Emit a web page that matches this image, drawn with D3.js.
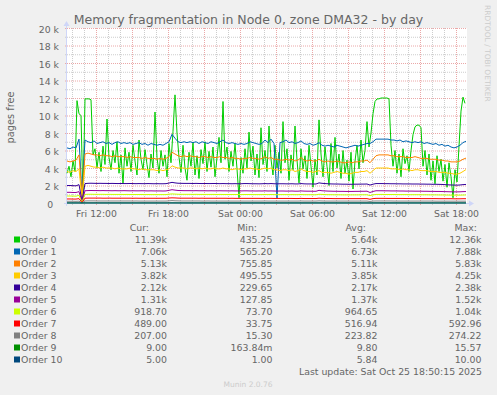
<!DOCTYPE html>
<html>
<head>
<meta charset="utf-8">
<title>Memory fragmentation in Node 0, zone DMA32 - by day</title>
<style>
body { margin: 0; background: #f0f0f0; }
svg { display: block; font-family: "DejaVu Sans", sans-serif; }

.grid-minor line { stroke: #cdcdcd; stroke-dasharray: 1,1; }
.grid-major line { stroke: #eba8a8; stroke-dasharray: 1,1; }
.grid-minor path, .grid-major path { display: none; }

.axis path, .axis line { display: none; }
.axis text { fill: #666; font-size: 9.3px; font-family: "DejaVu Sans", sans-serif; }

.line { fill: none; stroke-width: 1px; }
.legend text { fill: #666; font-size: 9.4px; }
</style>
</head>
<body>
<svg width="497" height="395"></svg>
<script src="https://d3js.org/d3.v7.min.js"></script>
<script>
// first sample at Fri 09:35, values in thousands of pages
var sampleStart = new Date(2025, 9, 24, 9, 35);
var order0StepMin = 10;   // order 0 read every 10 minutes
var sampleStepMin = 15;   // the other orders every 15 minutes

var order0 = [
  3.4, 4.2, 3.0, 4.8, 3.6, 11.7, 10.2, 10.0, 0.44, 11.9,
  11.9, 11.9, 11.8, 5.5, 6.2, 4.0, 5.8, 3.6, 6.5, 4.4,
  9.6, 5.2, 3.8, 6.0, 4.6, 7.0, 3.4, 5.5, 2.2, 6.3,
  4.2, 5.8, 3.6, 6.6, 4.8, 3.2, 7.2, 5.0, 3.8, 6.1,
  4.4, 2.9, 5.6, 4.0, 10.4, 5.2, 3.4, 6.0, 4.2, 5.5,
  3.0, 6.8, 4.6, 8.2, 12.36, 8.0, 5.2, 3.5, 6.6, 4.0,
  2.6, 5.8, 4.2, 6.9, 3.2, 5.4, 2.8, 6.1, 4.5, 7.0,
  3.6, 5.9, 4.1, 6.4, 3.0, 5.2, 7.5, 4.6, 11.6, 5.0,
  6.4, 3.6, 5.9, 4.2, 6.8, 3.9, 0.6, 5.2, 3.4, 6.2,
  4.0, 8.1, 4.8, 6.5, 3.2, 5.6, 2.9, 8.6, 4.4, 6.0,
  3.6, 8.8, 5.0, 3.2, 6.6, 4.0, 5.8, 3.4, 9.3, 4.6,
  6.2, 2.6, 5.5, 3.8, 8.8, 4.9, 2.3, 6.2, 3.9, 5.4,
  2.8, 6.6, 4.2, 1.8, 5.0, 3.2, 9.5, 5.6, 3.0, 6.4,
  4.2, 2.0, 6.8, 3.6, 7.5, 4.0, 5.6, 2.8, 6.0, 3.4,
  4.9, 2.5, 5.8, 1.6, 4.8, 6.6, 3.9, 7.2, 4.6, 6.0,
  9.3, 6.4, 8.0, 10.2, 11.6, 11.9, 11.9, 12.0, 12.0, 12.0,
  12.0, 11.9, 6.6, 4.2, 6.0, 3.4, 5.6, 3.0, 6.2, 4.5,
  5.4, 3.6, 6.0, 7.8, 8.7, 8.9, 8.9, 8.6, 4.2, 6.0,
  3.2, 5.6, 2.6, 4.8, 2.2, 5.4, 3.6, 5.0, 2.5, 4.4,
  1.8, 4.6, 3.0, 0.6, 3.8, 2.4, 6.5, 10.5, 12.1, 11.39
];
var order1 = [
  6.3, 6.2, 6.4, 6.3, 7.3, 0.9, 7.2, 7.0, 6.9, 7.1,
  6.8, 6.9, 7.0, 6.8, 6.9, 6.7, 6.9, 7.0, 6.8, 6.9,
  6.8, 6.9, 6.7, 6.8, 6.9, 6.7, 6.8, 6.6, 6.8, 6.7,
  6.6, 6.7, 6.6, 6.8, 7.0, 7.85, 7.4, 7.0, 6.9, 7.0,
  6.9, 7.0, 6.9, 7.0, 6.8, 7.0, 6.9, 6.8, 7.0, 6.9,
  6.8, 7.0, 7.2, 6.9, 6.8, 6.9, 6.8, 6.7, 6.8, 6.7,
  6.8, 7.0, 6.9, 6.8, 6.7, 6.8, 7.2, 6.9, 7.3, 6.8,
  0.57, 6.9, 7.0, 7.2, 6.9, 7.0, 6.8, 6.9, 7.1, 6.8,
  6.7, 6.8, 6.6, 6.7, 6.9, 6.6, 6.5, 6.6, 6.5, 6.4,
  6.6, 6.5, 6.4, 6.3, 6.4, 6.5, 6.6, 6.5, 6.6, 6.7,
  6.8, 6.8, 7.0, 7.3, 7.3, 7.3, 7.3, 7.3, 7.2, 7.2,
  7.1, 7.2, 7.0, 7.1, 7.0, 6.9, 7.0, 6.9, 7.0, 6.8,
  6.9, 6.8, 6.7, 6.8, 6.6, 6.7, 6.5, 6.6, 6.4, 6.3,
  6.4, 6.6, 6.9, 7.06
];
var order2 = [
  4.8, 4.7, 4.8, 4.9, 5.5, 0.76, 5.6, 5.7, 5.6, 5.5,
  5.5, 5.4, 5.5, 5.4, 5.4, 5.3, 5.4, 5.3, 5.3, 5.3,
  5.2, 5.3, 5.2, 5.2, 5.2, 5.1, 5.2, 5.1, 5.1, 5.1,
  5.0, 5.1, 5.0, 5.1, 5.3, 5.8, 5.6, 5.4, 5.3, 5.4,
  5.3, 5.4, 5.3, 5.3, 5.2, 5.3, 5.3, 5.2, 5.3, 5.2,
  5.2, 5.3, 5.2, 5.2, 5.1, 5.2, 5.1, 5.1, 5.0, 5.1,
  5.1, 5.2, 5.1, 5.1, 5.0, 5.1, 5.3, 5.1, 5.2, 5.0,
  5.0, 4.9, 4.9, 5.0, 4.9, 5.0, 4.8, 4.9, 5.2, 4.9,
  4.8, 4.9, 4.8, 4.8, 5.0, 4.8, 4.7, 4.8, 4.7, 4.7,
  4.8, 4.7, 4.6, 4.6, 4.7, 4.6, 4.7, 4.7, 4.8, 4.8,
  4.9, 4.6, 5.0, 5.4, 5.5, 5.5, 5.5, 5.5, 5.4, 5.4,
  5.3, 5.3, 5.3, 5.2, 5.2, 5.2, 5.3, 5.2, 5.1, 5.1,
  5.1, 5.0, 5.0, 5.0, 4.9, 4.9, 4.8, 4.8, 4.7, 4.7,
  4.7, 4.8, 5.0, 5.13
];
var order3 = [
  3.6, 3.5, 3.7, 3.6, 3.9, 0.5, 4.2, 4.3, 4.2, 4.1,
  4.1, 4.0, 4.1, 4.0, 4.0, 4.0, 3.9, 4.0, 3.9, 3.9,
  3.9, 4.0, 3.9, 3.9, 3.8, 3.9, 3.8, 3.8, 3.8, 3.8,
  3.7, 3.8, 3.7, 3.8, 3.9, 4.25, 4.1, 4.0, 4.0, 4.0,
  3.9, 4.0, 4.0, 3.9, 4.0, 3.9, 4.0, 3.9, 3.9, 4.0,
  3.9, 3.9, 4.0, 3.9, 3.9, 3.8, 3.9, 3.9, 3.8, 3.9,
  3.9, 4.0, 3.9, 3.9, 3.8, 3.9, 4.0, 3.9, 4.0, 3.8,
  3.8, 3.7, 3.8, 3.8, 3.7, 3.8, 3.6, 3.7, 3.9, 3.7,
  3.6, 3.6, 3.5, 3.6, 3.7, 3.5, 3.5, 3.5, 3.4, 3.5,
  3.6, 3.5, 3.4, 3.4, 3.3, 3.4, 3.5, 3.5, 3.6, 3.6,
  3.7, 3.4, 3.7, 4.0, 4.0, 4.0, 4.0, 4.0, 3.9, 3.9,
  3.9, 3.8, 3.9, 3.8, 3.8, 3.7, 3.8, 3.8, 3.7, 3.7,
  3.7, 3.6, 3.6, 3.6, 3.5, 3.5, 3.5, 3.4, 3.4, 3.3,
  3.3, 3.4, 3.6, 3.82
];
var order4 = [
  2.00, 2.00, 1.98, 1.96, 2.10, 0.23, 2.22, 2.25, 2.26, 2.25,
  2.24, 2.25, 2.24, 2.24, 2.23, 2.24, 2.23, 2.22, 2.23, 2.22,
  2.22, 2.23, 2.22, 2.21, 2.22, 2.21, 2.21, 2.22, 2.21, 2.20,
  2.21, 2.20, 2.20, 2.21, 2.28, 2.36, 2.30, 2.26, 2.25, 2.24,
  2.24, 2.24, 2.23, 2.24, 2.23, 2.22, 2.23, 2.22, 2.22, 2.23,
  2.22, 2.21, 2.22, 2.21, 2.21, 2.20, 2.21, 2.20, 2.20, 2.22,
  2.22, 2.21, 2.20, 2.20, 2.19, 2.20, 2.22, 2.20, 2.22, 2.20,
  2.19, 2.20, 2.20, 2.19, 2.19, 2.20, 2.18, 2.18, 2.22, 2.19,
  2.18, 2.18, 2.17, 2.17, 2.30, 2.25, 2.22, 2.20, 2.18, 2.17,
  2.17, 2.16, 2.15, 2.15, 2.14, 2.14, 2.15, 2.15, 2.16, 2.16,
  2.17, 2.05, 2.15, 2.22, 2.22, 2.22, 2.21, 2.21, 2.20, 2.20,
  2.19, 2.19, 2.18, 2.18, 2.18, 2.17, 2.17, 2.17, 2.16, 2.16,
  2.15, 2.15, 2.14, 2.14, 2.13, 2.12, 2.10, 2.08, 2.06, 2.05,
  2.04, 2.06, 2.10, 2.12
];
var order5 = [
  1.22, 1.22, 1.20, 1.20, 1.30, 0.128, 1.40, 1.42, 1.43, 1.42,
  1.42, 1.41, 1.42, 1.41, 1.41, 1.40, 1.41, 1.40, 1.40, 1.41,
  1.40, 1.39, 1.40, 1.39, 1.39, 1.40, 1.39, 1.38, 1.39, 1.38,
  1.38, 1.38, 1.37, 1.38, 1.45, 1.52, 1.47, 1.43, 1.42, 1.41,
  1.41, 1.41, 1.40, 1.41, 1.40, 1.40, 1.40, 1.39, 1.40, 1.39,
  1.39, 1.40, 1.39, 1.39, 1.38, 1.39, 1.38, 1.38, 1.38, 1.39,
  1.39, 1.38, 1.38, 1.37, 1.38, 1.37, 1.39, 1.37, 1.38, 1.37,
  1.36, 1.37, 1.37, 1.36, 1.36, 1.37, 1.35, 1.35, 1.38, 1.36,
  1.35, 1.35, 1.34, 1.34, 1.45, 1.40, 1.38, 1.36, 1.35, 1.34,
  1.34, 1.33, 1.33, 1.32, 1.32, 1.32, 1.33, 1.33, 1.34, 1.34,
  1.35, 1.20, 1.32, 1.40, 1.40, 1.40, 1.39, 1.39, 1.38, 1.38,
  1.38, 1.37, 1.37, 1.36, 1.36, 1.36, 1.35, 1.35, 1.35, 1.34,
  1.34, 1.33, 1.33, 1.32, 1.32, 1.31, 1.30, 1.29, 1.28, 1.27,
  1.27, 1.28, 1.30, 1.31
];
var order6 = [
  0.80, 0.80, 0.79, 0.78, 0.88, 0.074, 0.98, 1.00, 1.00, 0.99,
  0.99, 0.99, 0.99, 0.98, 0.99, 0.98, 0.98, 0.98, 0.98, 0.97,
  0.98, 0.97, 0.97, 0.97, 0.97, 0.97, 0.96, 0.97, 0.96, 0.96,
  0.96, 0.96, 0.96, 0.96, 1.01, 1.04, 1.02, 1.00, 0.99, 0.99,
  0.99, 0.99, 0.98, 0.99, 0.98, 0.98, 0.98, 0.98, 0.98, 0.98,
  0.97, 0.98, 0.97, 0.97, 0.97, 0.97, 0.97, 0.97, 0.96, 0.97,
  0.97, 0.97, 0.96, 0.96, 0.96, 0.96, 0.97, 0.96, 0.97, 0.96,
  0.95, 0.96, 0.96, 0.96, 0.95, 0.96, 0.95, 0.95, 0.97, 0.95,
  0.95, 0.95, 0.94, 0.94, 1.00, 0.98, 0.96, 0.95, 0.95, 0.94,
  0.94, 0.94, 0.93, 0.93, 0.93, 0.93, 0.93, 0.93, 0.94, 0.94,
  0.94, 0.84, 0.93, 0.98, 0.98, 0.98, 0.97, 0.97, 0.97, 0.97,
  0.96, 0.96, 0.96, 0.96, 0.95, 0.95, 0.95, 0.95, 0.94, 0.94,
  0.94, 0.93, 0.93, 0.93, 0.92, 0.92, 0.91, 0.91, 0.90, 0.90,
  0.90, 0.90, 0.91, 0.92
];
var order7 = [
  0.46, 0.46, 0.45, 0.45, 0.50, 0.034, 0.55, 0.56, 0.56, 0.56,
  0.56, 0.56, 0.55, 0.55, 0.56, 0.55, 0.55, 0.55, 0.55, 0.55,
  0.55, 0.55, 0.54, 0.55, 0.54, 0.54, 0.54, 0.54, 0.54, 0.54,
  0.54, 0.54, 0.54, 0.54, 0.57, 0.59, 0.58, 0.56, 0.55, 0.55,
  0.55, 0.55, 0.55, 0.55, 0.54, 0.55, 0.54, 0.54, 0.54, 0.54,
  0.54, 0.54, 0.54, 0.54, 0.53, 0.54, 0.53, 0.53, 0.53, 0.53,
  0.53, 0.53, 0.53, 0.53, 0.53, 0.52, 0.53, 0.52, 0.53, 0.52,
  0.52, 0.52, 0.52, 0.52, 0.52, 0.52, 0.51, 0.51, 0.53, 0.51,
  0.51, 0.51, 0.51, 0.51, 0.55, 0.53, 0.52, 0.51, 0.51, 0.50,
  0.50, 0.50, 0.50, 0.50, 0.50, 0.50, 0.50, 0.50, 0.50, 0.50,
  0.50, 0.42, 0.50, 0.53, 0.53, 0.53, 0.53, 0.52, 0.52, 0.52,
  0.52, 0.52, 0.52, 0.51, 0.51, 0.51, 0.51, 0.51, 0.50, 0.50,
  0.50, 0.50, 0.50, 0.50, 0.49, 0.49, 0.49, 0.49, 0.49, 0.48,
  0.48, 0.48, 0.49, 0.489
];
var order8 = [
  0.20, 0.20, 0.20, 0.19, 0.21, 0.015, 0.23, 0.24, 0.24, 0.24,
  0.23, 0.23, 0.23, 0.23, 0.23, 0.23, 0.23, 0.23, 0.23, 0.23,
  0.23, 0.23, 0.22, 0.23, 0.22, 0.22, 0.22, 0.22, 0.22, 0.22,
  0.22, 0.22, 0.22, 0.22, 0.24, 0.27, 0.25, 0.24, 0.23, 0.23,
  0.23, 0.23, 0.23, 0.23, 0.23, 0.22, 0.22, 0.23, 0.22, 0.22,
  0.22, 0.22, 0.22, 0.22, 0.22, 0.22, 0.22, 0.22, 0.22, 0.22,
  0.22, 0.22, 0.22, 0.22, 0.22, 0.22, 0.23, 0.22, 0.22, 0.22,
  0.22, 0.22, 0.22, 0.22, 0.22, 0.22, 0.22, 0.22, 0.23, 0.22,
  0.22, 0.22, 0.22, 0.22, 0.24, 0.23, 0.22, 0.22, 0.22, 0.22,
  0.22, 0.22, 0.22, 0.22, 0.22, 0.22, 0.22, 0.22, 0.22, 0.22,
  0.22, 0.18, 0.22, 0.23, 0.23, 0.23, 0.23, 0.23, 0.23, 0.22,
  0.22, 0.22, 0.22, 0.22, 0.22, 0.22, 0.22, 0.22, 0.22, 0.22,
  0.22, 0.22, 0.22, 0.21, 0.21, 0.21, 0.21, 0.21, 0.21, 0.21,
  0.21, 0.21, 0.21, 0.207
];
var order9 = [
  0.010, 0.010, 0.010, 0.010, 0.011, 0.0002, 0.012, 0.012, 0.011, 0.011,
  0.010, 0.010, 0.010, 0.010, 0.010, 0.010, 0.010, 0.010, 0.010, 0.010,
  0.010, 0.010, 0.010, 0.010, 0.010, 0.010, 0.010, 0.010, 0.010, 0.010,
  0.010, 0.010, 0.010, 0.010, 0.013, 0.016, 0.014, 0.012, 0.011, 0.010,
  0.010, 0.010, 0.010, 0.010, 0.010, 0.010, 0.010, 0.010, 0.010, 0.010,
  0.010, 0.010, 0.010, 0.010, 0.010, 0.010, 0.010, 0.010, 0.010, 0.010,
  0.010, 0.010, 0.010, 0.010, 0.010, 0.010, 0.010, 0.010, 0.010, 0.010,
  0.010, 0.010, 0.010, 0.010, 0.010, 0.010, 0.010, 0.010, 0.010, 0.010,
  0.010, 0.010, 0.010, 0.010, 0.011, 0.010, 0.010, 0.010, 0.010, 0.010,
  0.009, 0.009, 0.009, 0.009, 0.009, 0.009, 0.009, 0.009, 0.009, 0.009,
  0.009, 0.008, 0.009, 0.010, 0.010, 0.010, 0.010, 0.010, 0.010, 0.010,
  0.010, 0.010, 0.010, 0.010, 0.010, 0.010, 0.010, 0.010, 0.010, 0.010,
  0.010, 0.010, 0.010, 0.009, 0.009, 0.009, 0.009, 0.009, 0.009, 0.009,
  0.009, 0.009, 0.009, 0.009
];
var order10 = [
  0.006, 0.006, 0.006, 0.006, 0.006, 0.001, 0.006, 0.007, 0.007, 0.006,
  0.006, 0.006, 0.006, 0.006, 0.006, 0.006, 0.006, 0.006, 0.006, 0.006,
  0.006, 0.006, 0.006, 0.006, 0.006, 0.006, 0.006, 0.006, 0.006, 0.006,
  0.006, 0.006, 0.006, 0.006, 0.008, 0.010, 0.008, 0.007, 0.006, 0.006,
  0.006, 0.006, 0.006, 0.006, 0.006, 0.006, 0.006, 0.006, 0.006, 0.006,
  0.006, 0.006, 0.006, 0.006, 0.006, 0.006, 0.006, 0.006, 0.006, 0.006,
  0.006, 0.006, 0.006, 0.006, 0.006, 0.006, 0.006, 0.006, 0.006, 0.006,
  0.006, 0.006, 0.006, 0.006, 0.006, 0.006, 0.006, 0.006, 0.006, 0.006,
  0.006, 0.006, 0.006, 0.006, 0.006, 0.006, 0.006, 0.006, 0.006, 0.006,
  0.005, 0.005, 0.005, 0.005, 0.005, 0.005, 0.005, 0.005, 0.005, 0.005,
  0.005, 0.004, 0.005, 0.006, 0.006, 0.006, 0.006, 0.006, 0.006, 0.006,
  0.006, 0.006, 0.006, 0.006, 0.006, 0.006, 0.006, 0.006, 0.006, 0.006,
  0.006, 0.006, 0.006, 0.005, 0.005, 0.005, 0.005, 0.005, 0.005, 0.005,
  0.005, 0.005, 0.005, 0.005
];

var orderNames = ["Order 0", "Order 1", "Order 2", "Order 3", "Order 4", "Order 5",
                  "Order 6", "Order 7", "Order 8", "Order 9", "Order 10"];
var orderColors = ["#00cc00", "#0066b3", "#ff8000", "#ffcc00", "#330099", "#990099",
                   "#ccff00", "#ff0000", "#808080", "#008f00", "#00487d"];

// legend columns as munin prints them
var legendCur = ["11.39k", "7.06k", "5.13k", "3.82k", "2.12k", "1.31k", "918.70", "489.00", "207.00", "9.00", "5.00"];
var legendMin = ["435.25", "565.20", "755.85", "495.55", "229.65", "127.85", "73.70", "33.75", "15.30", "163.84m", "1.00"];
var legendAvg = ["5.64k", "6.73k", "5.11k", "3.85k", "2.17k", "1.37k", "964.65", "516.94", "223.82", "9.80", "5.84"];
var legendMax = ["12.36k", "7.88k", "5.83k", "4.25k", "2.38k", "1.52k", "1.04k", "592.96", "274.22", "15.57", "10.00"];

var yTicks = [0, 2, 4, 6, 8, 10, 12, 14, 16, 18, 20];
var yMinorTicks = [1, 3, 5, 7, 9, 11, 13, 15, 17, 19];

var titleText = "Memory fragmentation in Node 0, zone DMA32 - by day";
var yLabel = "pages free";
var lastUpdate = "Last update: Sat Oct 25 18:50:15 2025";
var footer = "Munin 2.0.76";
var sideNote = "RRDTOOL / TOBI OETIKER";

var series = [order0, order1, order2, order3, order4, order5, order6, order7, order8, order9, order10];

var svg = d3.select("svg"),
    margin = {top: 28, left: 67},
    width = 400,
    height = 175;

// time range of the day graph: 2000 minutes ending 18:55
var x = d3.scaleTime()
    .domain([sampleStart, d3.timeMinute.offset(sampleStart, 2000)])
    .range([margin.left, margin.left + width]);
var y = d3.scaleLinear()
    .domain([0, 20])
    .range([margin.top + height, margin.top]);

// white canvas
svg.append("rect")
    .attr("x", margin.left).attr("y", margin.top)
    .attr("width", width).attr("height", height)
    .attr("fill", "#ffffff");

// horizontal grid
svg.append("g")
    .attr("class", "grid-minor")
    .attr("transform", "translate(" + (margin.left - 2) + ",0)")
    .call(d3.axisLeft(y).tickValues(yMinorTicks).tickSize(-(width + 2)).tickFormat(""));
svg.append("g")
    .attr("class", "grid-major")
    .attr("transform", "translate(" + (margin.left - 2) + ",0)")
    .call(d3.axisLeft(y).tickValues(yTicks.filter(function(d) { return d > 0; })).tickSize(-(width + 2)).tickFormat(""));

// vertical grid: every hour, red every 3 hours
var hours = d3.timeHour.range(x.domain()[0], x.domain()[1]);
svg.append("g")
    .attr("class", "grid-minor")
    .attr("transform", "translate(0," + (margin.top + height + 2) + ")")
    .call(d3.axisTop(x).tickValues(hours.filter(function(d) { return d.getHours() % 3 != 0; }))
        .tickSize(height + 2).tickFormat(""));
svg.append("g")
    .attr("class", "grid-major")
    .attr("transform", "translate(0," + (margin.top + height + 2) + ")")
    .call(d3.axisTop(x).tickValues(hours.filter(function(d) { return d.getHours() % 3 == 0; }))
        .tickSize(height + 2).tickFormat(""));

// axis lines + arrows
var axisColor = "#cfd6f8";
svg.append("line")
    .attr("x1", margin.left - 3).attr("x2", margin.left + width + 3)
    .attr("y1", y(0) + 0.5).attr("y2", y(0) + 0.5)
    .attr("stroke", axisColor);
svg.append("line")
    .attr("x1", margin.left - 0.5).attr("x2", margin.left - 0.5)
    .attr("y1", y(0) + 3).attr("y2", margin.top - 3)
    .attr("stroke", axisColor);
svg.append("path")
    .attr("d", "M" + (margin.left + width + 2) + "," + (y(0) - 2.5) + "L" + (margin.left + width + 7) + "," + (y(0) + 0.5) +
               "L" + (margin.left + width + 2) + "," + (y(0) + 3.5) + "Z")
    .attr("fill", axisColor);
svg.append("path")
    .attr("d", "M" + (margin.left - 3.5) + "," + (margin.top - 2) + "L" + (margin.left - 0.5) + "," + (margin.top - 7) +
               "L" + (margin.left + 2.5) + "," + (margin.top - 2) + "Z")
    .attr("fill", axisColor);

// tick labels
var yAxis = svg.append("g")
    .attr("class", "axis")
    .attr("transform", "translate(" + margin.left + ",0)")
    .call(d3.axisLeft(y).tickValues(yTicks).tickSize(0).tickPadding(8)
        .tickFormat(function(d) { return d == 0 ? "0" : d + " k"; }));
yAxis.selectAll("text").attr("dy", "0.45em");
yAxis.selectAll("text").filter(function(d) { return d == 0; }).attr("dx", "-0.63em");

svg.append("g")
    .attr("class", "axis")
    .attr("transform", "translate(0," + y(0) + ")")
    .call(d3.axisBottom(x).ticks(d3.timeHour.every(6)).tickSize(0).tickPadding(7)
        .tickFormat(d3.timeFormat("%a %H:%M")));

// the lines, order 0 at the back
function lineFor(stepMin) {
  return d3.line()
      .x(function(d, i) { return x(d3.timeMinute.offset(sampleStart, i * stepMin)); })
      .y(function(d) { return y(d); });
}

svg.append("g").selectAll("path")
    .data(series)
    .enter().append("path")
    .attr("class", "line")
    .attr("stroke", function(d, i) { return orderColors[i]; })
    .attr("d", function(d, i) { return lineFor(i == 0 ? order0StepMin : sampleStepMin)(d); });

// title and labels
svg.append("text")
    .attr("x", 248.5).attr("y", 24)
    .attr("text-anchor", "middle")
    .attr("fill", "#666")
    .style("font-size", "12.5px")
    .text(titleText);

svg.append("text")
    .attr("transform", "translate(13.5," + (margin.top + height / 2 + 2) + ") rotate(-90)")
    .attr("text-anchor", "middle")
    .attr("fill", "#666")
    .style("font-size", "9.8px")
    .text(yLabel);

svg.append("text")
    .attr("transform", "translate(484.5,5) rotate(90)")
    .attr("fill", "#cccccc")
    .style("font-size", "7.5px")
    .text(sideNote);

// legend
var legend = svg.append("g").attr("class", "legend");
var colRight = [167, 272.5, 377.5, 481.5];
var headRight = [149, 257, 366, 477];
var headers = ["Cur:", "Min:", "Avg:", "Max:"];
var columns = [legendCur, legendMin, legendAvg, legendMax];

legend.selectAll("text.head")
    .data(headers)
    .enter().append("text")
    .attr("class", "head")
    .attr("x", function(d, i) { return headRight[i]; })
    .attr("y", 230.5)
    .attr("text-anchor", "end")
    .text(function(d) { return d; });

var rows = legend.selectAll("g.row")
    .data(orderNames)
    .enter().append("g")
    .attr("class", "row")
    .attr("transform", function(d, i) { return "translate(0," + (239.5 + i * 12) + ")"; });

rows.append("rect")
    .attr("x", 14).attr("y", -3)
    .attr("width", 6).attr("height", 6)
    .attr("fill", function(d, i) { return orderColors[i]; });

rows.append("text")
    .attr("x", 21).attr("y", 3.4)
    .text(function(d) { return d; });

columns.forEach(function(col, c) {
  rows.append("text")
      .attr("x", colRight[c]).attr("y", 3.4)
      .attr("text-anchor", "end")
      .text(function(d, i) { return col[i]; });
});

svg.append("text")
    .attr("x", 482).attr("y", 375)
    .attr("text-anchor", "end")
    .attr("fill", "#666")
    .style("font-size", "9.4px")
    .text(lastUpdate);

svg.append("text")
    .attr("x", 248).attr("y", 386.5)
    .attr("text-anchor", "middle")
    .attr("fill", "#cccccc")
    .style("font-size", "7.5px")
    .text(footer);
</script>
</body>
</html>
